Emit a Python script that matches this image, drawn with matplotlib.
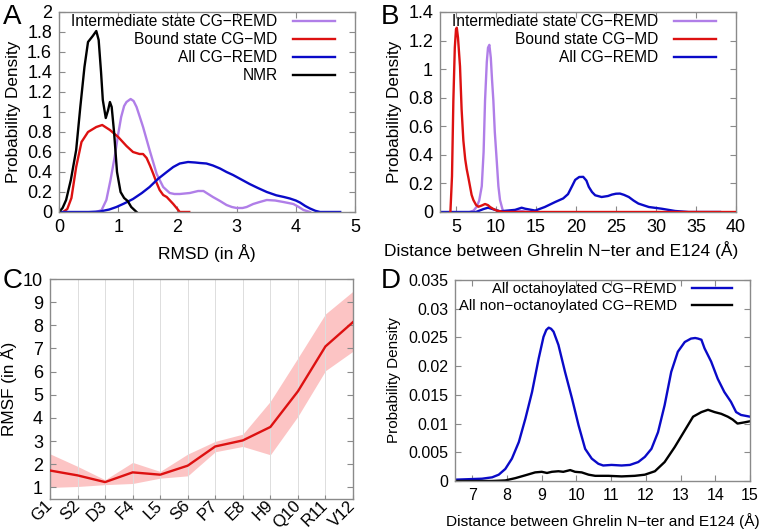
import matplotlib
matplotlib.use("Agg")
import matplotlib.pyplot as plt
from matplotlib.ticker import FuncFormatter, MultipleLocator

plt.rcParams["font.family"] = ["Liberation Sans", "DejaVu Sans"]

# colours
PURPLE = "#b07ee8"
RED = "#dd1111"
BLUE = "#0a0ac8"
BLACK = "#000000"
FILL = "#fcc4c4"
GREY = "#8a8a8a"

# ---- panel A: RMSD distributions ----
a_nmr_x = [0, 0.06, 0.12, 0.2, 0.29, 0.36, 0.43, 0.49, 0.57, 0.63, 0.67, 0.71, 0.74, 0.79, 0.83, 0.86, 0.89,
           0.93, 0.98, 1.04, 1.1, 1.16, 1.22, 1.31]
a_nmr_y = [0, 0.04, 0.12, 0.32, 0.62, 1.05, 1.45, 1.70, 1.76, 1.81, 1.72, 1.40, 1.12, 0.94, 1.02, 1.10, 1.05,
           0.80, 0.40, 0.20, 0.14, 0.11, 0.05, 0]
a_bound_x = [0.07, 0.14, 0.21, 0.29, 0.38, 0.49, 0.63, 0.73, 0.86, 1.0, 1.14, 1.25, 1.36, 1.42, 1.48, 1.54,
             1.59, 1.65, 1.70, 1.76, 1.82, 1.93, 2.0, 2.04, 2.2]
a_bound_y = [0, 0.03, 0.14, 0.45, 0.70, 0.80, 0.85, 0.87, 0.82, 0.75, 0.66, 0.60, 0.58, 0.58, 0.54, 0.46,
             0.385, 0.29, 0.22, 0.17, 0.15, 0.08, 0.03, 0, 0]
a_inter_x = [0.63, 0.72, 0.80, 0.87, 0.94, 1.0, 1.05, 1.1, 1.14, 1.21, 1.26, 1.31, 1.36, 1.42, 1.53, 1.65,
             1.76, 1.87, 1.95, 2.04, 2.21, 2.35, 2.44, 2.52, 2.60, 2.72, 2.83, 2.92, 3.0, 3.1, 3.17, 3.28,
             3.39, 3.51, 3.65, 3.79, 3.96, 4.05, 4.13, 4.24]
a_inter_y = [0, 0.02, 0.12, 0.32, 0.55, 0.78, 0.95, 1.06, 1.10, 1.13, 1.11, 1.05, 0.96, 0.85, 0.62, 0.38,
             0.25, 0.19, 0.18, 0.18, 0.19, 0.21, 0.21, 0.18, 0.15, 0.11, 0.07, 0.05, 0.04, 0.04, 0.05, 0.08,
             0.10, 0.12, 0.115, 0.10, 0.08, 0.05, 0.02, 0]
a_all_x = [0, 0.5, 0.69, 0.85, 0.97, 1.1, 1.25, 1.4, 1.53, 1.67, 1.82, 1.93, 2.04, 2.18, 2.3, 2.38, 2.49,
           2.6, 2.72, 2.83, 2.94, 3.08, 3.22, 3.36, 3.51, 3.67, 3.80, 3.90, 4.0, 4.07, 4.16, 4.24, 4.33, 4.41,
           4.75]
a_all_y = [0, 0, 0.005, 0.025, 0.05, 0.085, 0.13, 0.19, 0.25, 0.33, 0.40, 0.45, 0.485, 0.50, 0.495, 0.49,
           0.485, 0.465, 0.435, 0.40, 0.37, 0.325, 0.28, 0.24, 0.20, 0.167, 0.15, 0.135, 0.115, 0.095, 0.06,
           0.035, 0.012, 0, 0]

# ---- panel B: distance N-ter / E124 ----
b_bound_x = [4.3, 4.5, 4.67, 4.85, 5.0, 5.1, 5.25, 5.5, 5.7, 5.92, 6.15, 6.34, 6.55, 6.75, 6.95, 7.17, 7.5,
             7.8, 8.2, 8.63, 9.0, 9.26, 9.7, 10.1, 10.9, 40]
b_bound_y = [0, 0.25, 0.78, 1.15, 1.28, 1.29, 1.22, 1.02, 0.72, 0.50, 0.37, 0.30, 0.24, 0.18, 0.12, 0.084,
             0.05, 0.037, 0.045, 0.056, 0.048, 0.035, 0.02, 0.01, 0, 0]
b_inter_x = [6.75, 7.2, 7.59, 7.9, 8.22, 8.45, 8.63, 8.85, 9.0, 9.17, 9.35, 9.5, 9.67, 9.85, 10.09, 10.3,
             10.5, 10.9, 12.0, 13.0, 14.0]
b_inter_y = [0, 0.01, 0.037, 0.08, 0.18, 0.42, 0.78, 1.05, 1.15, 1.17, 1.08, 0.93, 0.78, 0.56, 0.36, 0.18,
             0.084, 0, 0.005, 0.008, 0]
b_all_x = [3, 7.5, 8.4, 9.0, 9.6, 10.5, 12.39, 13.2, 13.64, 14.9, 16.1, 17.4, 18.4, 19.0, 19.5, 19.9, 20.4,
           20.9, 21.3, 21.6, 22.0, 22.4, 23.2, 24.0, 24.5, 25.0, 25.5, 26.0, 26.6, 27.2, 27.8, 29.1, 30.7,
           32.4, 34.1, 38]
b_all_y = [0, 0, 0.02, 0.03, 0.02, 0.005, 0.015, 0.03, 0.023, 0.01, 0.035, 0.07, 0.095, 0.125, 0.18, 0.225,
           0.245, 0.246, 0.22, 0.176, 0.14, 0.117, 0.105, 0.112, 0.122, 0.128, 0.129, 0.12, 0.105, 0.08,
           0.059, 0.035, 0.023, 0.007, 0, 0]

# ---- panel C: RMSF per residue ----
residues = ["G1", "S2", "D3", "F4", "L5", "S6", "P7", "E8", "H9", "Q10", "R11", "V12"]
rmsf_mean = [1.73, 1.52, 1.23, 1.65, 1.55, 1.94, 2.77, 3.03, 3.61, 5.15, 7.09, 8.14]
rmsf_upper = [2.45, 1.91, 1.33, 2.08, 1.69, 2.44, 2.99, 3.30, 4.72, 6.59, 8.49, 9.47]
rmsf_lower = [1.0, 1.04, 1.12, 1.17, 1.40, 1.50, 2.54, 2.77, 2.41, 4.07, 6.04, 6.88]

# ---- panel D: octanoylated vs non-octanoylated ----
d_oct_x = [6.5, 7.28, 7.57, 7.76, 7.95, 8.14, 8.34, 8.53, 8.72, 8.91, 9.05, 9.13, 9.2, 9.27, 9.34, 9.48,
           9.67, 9.87, 10.06, 10.25, 10.44, 10.63, 10.77, 11.01, 11.3, 11.54, 11.78, 11.97, 12.16, 12.35,
           12.54, 12.73, 12.92, 13.12, 13.3, 13.42, 13.5, 13.6, 13.69, 13.88, 14.07, 14.26, 14.45, 14.6,
           14.74, 15]
d_oct_y = [0.00023, 0.0004, 0.00064, 0.0011, 0.0021, 0.0039, 0.0068, 0.0109, 0.0155, 0.0213, 0.0251,
           0.0263, 0.0267, 0.0265, 0.026, 0.0237, 0.019, 0.0144, 0.0097, 0.0056, 0.0039, 0.003, 0.0027,
           0.0028, 0.0027, 0.0028, 0.0033, 0.0042, 0.0056, 0.0085, 0.0132, 0.019, 0.0225, 0.0242, 0.0248,
           0.0249, 0.0248, 0.0246, 0.0231, 0.0208, 0.0178, 0.0155, 0.0138, 0.012, 0.0115, 0.0112]
d_non_x = [6.5, 7.57, 7.95, 8.24, 8.53, 8.81, 9.0, 9.15, 9.29, 9.48, 9.62, 9.82, 9.96, 10.15, 10.35, 10.54,
           10.92, 11.3, 11.68, 11.97, 12.26, 12.54, 12.83, 13.12, 13.36, 13.6, 13.79, 13.98, 14.17, 14.36,
           14.5, 14.64, 14.83, 15]
d_non_y = [0, 0, 0.0001, 0.0005, 0.001, 0.0015, 0.0016, 0.0014, 0.0016, 0.0017, 0.0016, 0.0019, 0.0016,
           0.0015, 0.0011, 0.0009, 0.0009, 0.0008, 0.0009, 0.0011, 0.0017, 0.0033, 0.0059, 0.0088, 0.0112,
           0.012, 0.0124, 0.012, 0.0117, 0.0112, 0.0107, 0.01, 0.0102, 0.0104]

W, H = 762, 530
fig = plt.figure(figsize=(W / 100, H / 100), dpi=100)

LW = 1.7


def make_axes(left, right, top, bottom):
    return fig.add_axes([left / W, 1 - bottom / H, (right - left) / W, (bottom - top) / H])


def style(ax, fs=13):
    for sp in ax.spines.values():
        sp.set_color(GREY)
        sp.set_linewidth(1.0)
    ax.tick_params(direction="in", length=4, width=0.8, color=GREY, labelsize=fs,
                   top=True, right=True, pad=5)


gfmt = FuncFormatter(lambda v, p: "%g" % round(v, 6))


def gp_legend(ax, handles, labels, right_px, width_px, height_px, fs=11.2):
    ax.legend(handles, labels, loc="upper right", frameon=False, markerfirst=False, fontsize=fs,
              handlelength=2.7, handletextpad=1.0, labelspacing=0.2,
              borderaxespad=0, borderpad=0,
              bbox_to_anchor=(1 - right_px / width_px, 1 - 2 / height_px))


# A
axA = make_axes(59, 355, 12, 212)
axA.plot(a_inter_x, a_inter_y, color=PURPLE, lw=LW, label="Intermediate state CG\u2212REMD")
axA.plot(a_bound_x, a_bound_y, color=RED, lw=LW, label="Bound state CG\u2212MD")
axA.plot(a_all_x, a_all_y, color=BLUE, lw=LW, label="All CG\u2212REMD")
axA.plot(a_nmr_x, a_nmr_y, color=BLACK, lw=LW, label="NMR")
axA.set_xlim(0, 5)
axA.set_ylim(0, 2)
axA.yaxis.set_major_locator(MultipleLocator(0.2))
axA.xaxis.set_major_locator(MultipleLocator(1))
axA.yaxis.set_major_formatter(gfmt)
style(axA)
axA.set_xlabel("RMSD (in \u00c5)", fontsize=12.5, labelpad=6)
axA.set_ylabel("Probability Density", fontsize=12.3, labelpad=4)
h, l = axA.get_legend_handles_labels()
gp_legend(axA, h, l, 20, 296, 200)

# B
axB = make_axes(440, 736, 12, 212)
axB.plot(b_inter_x, b_inter_y, color=PURPLE, lw=LW, label="Intermediate state CG\u2212REMD")
axB.plot(b_all_x, b_all_y, color=BLUE, lw=LW, label="All CG\u2212REMD", zorder=2)
axB.plot(b_bound_x, b_bound_y, color=RED, lw=LW, label="Bound state CG\u2212MD", zorder=3)
axB.set_xlim(3, 40)
axB.set_ylim(0, 1.4)
axB.xaxis.set_major_locator(MultipleLocator(5))
axB.yaxis.set_major_locator(MultipleLocator(0.2))
axB.yaxis.set_major_formatter(gfmt)
style(axB)
axB.set_xlabel("Distance between Ghrelin N\u2212ter and E124 (\u00c5)", fontsize=12.5)
axB.xaxis.set_label_coords((561 - 440) / 296, -(241 - 212) / 200)
axB.set_ylabel("Probability Density", fontsize=12.3, labelpad=4)
h, l = axB.get_legend_handles_labels()
order = [0, 2, 1]
gp_legend(axB, [h[i] for i in order], [l[i] for i in order], 20, 296, 200)

# C
axC = make_axes(50, 353, 279, 499)
xs = list(range(len(residues)))
axC.fill_between(xs, rmsf_lower, rmsf_upper, color=FILL, lw=0, zorder=1)
axC.plot(xs, rmsf_mean, color=RED, lw=LW, zorder=3)
axC.set_xlim(0, len(residues) - 1)
axC.set_ylim(0.5, 10)
axC.set_xticks(xs)
axC.set_xticklabels(residues, rotation=45, ha="right", va="center", rotation_mode="anchor")
axC.set_yticks(range(1, 11))
axC.grid(axis="x", color="#dddddd", lw=0.7, zorder=0)
style(axC)
axC.tick_params(axis="x", length=3, top=False, pad=3, labelsize=12.2)
axC.set_ylabel("RMSF (in \u00c5)", fontsize=12.3, labelpad=4)

# D
axD = make_axes(455, 750, 280, 481)
axD.plot(d_oct_x, d_oct_y, color=BLUE, lw=LW, label="All octanoylated CG\u2212REMD")
axD.plot(d_non_x, d_non_y, color=BLACK, lw=LW, label="All non\u2212octanoylated CG\u2212REMD")
axD.set_xlim(6.5, 15)
axD.set_ylim(0, 0.035)
axD.xaxis.set_major_locator(MultipleLocator(1))
axD.yaxis.set_major_locator(MultipleLocator(0.005))
axD.yaxis.set_major_formatter(gfmt)
style(axD, fs=11.5)
axD.set_xlabel("Distance between Ghrelin N\u2212ter and E124 (\u00c5)", fontsize=11.1, labelpad=7)
axD.set_ylabel("Probability Density", fontsize=11, labelpad=5)
h, l = axD.get_legend_handles_labels()
gp_legend(axD, h, l, 18, 295, 201, fs=10.7)

# panel letters
for letter, x, y in [("A", 3, 4), ("B", 381, 4), ("C", 3, 268), ("D", 381, 268)]:
    fig.text(x / W, 1 - y / H, letter, fontsize=20, va="top", ha="left")

fig.savefig("out.png", dpi=100)
